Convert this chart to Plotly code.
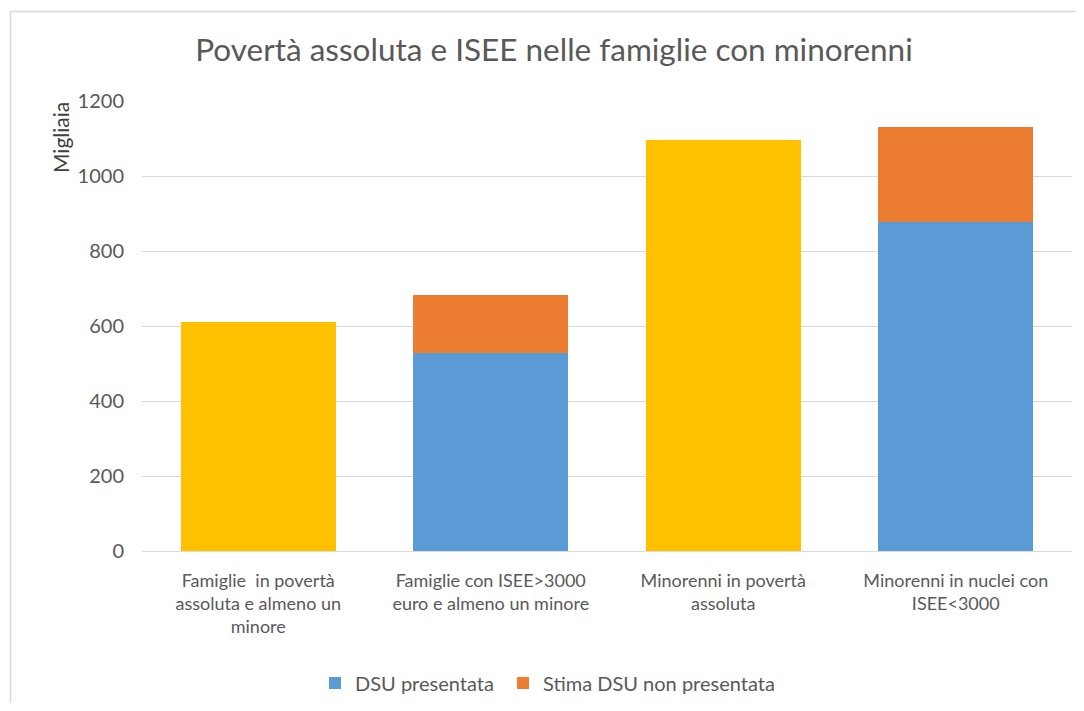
import plotly.graph_objects as go

categories = [
    "Famiglie  in povertà<br>assoluta e almeno un<br>minore",
    "Famiglie con ISEE>3000<br>euro e almeno un minore",
    "Minorenni in povertà<br>assoluta",
    "Minorenni in nuclei con<br>ISEE<3000",
]
totale = [611, None, 1096, None]
dsu_presentata = [None, 528, None, 878]
dsu_non_presentata = [None, 154, None, 252]

FONT = "Lato, sans-serif"
GREY = "#595959"

# page body has an 8px margin, so figure coords = screenshot coords - 8
W, H = 1076, 695
PL, PR, PT, PB = 134, 1064, 93, 543
PW, PH = PR - PL, PB - PT


def px(x):
    return (x - 8 - PL) / PW


def py(y):
    return (PB - (y - 8)) / PH


fig = go.Figure()
fig.add_trace(go.Bar(x=categories, y=totale, name="Totale", marker_color="#FFC000",
                     showlegend=False))
fig.add_trace(go.Bar(x=categories, y=dsu_presentata, name="DSU presentata",
                     marker_color="#5B9BD5", legend="legend"))
fig.add_trace(go.Bar(x=categories, y=dsu_non_presentata, name="Stima DSU non presentata",
                     marker_color="#ED7D31", legend="legend2"))
fig.update_traces(marker_line_width=0, width=0.667)

legend_style = dict(orientation="h", xanchor="left", y=py(683), yanchor="middle",
                    font=dict(size=20, color=GREY), bgcolor="rgba(0,0,0,0)")

fig.update_layout(
    width=W, height=H,
    barmode="stack",
    paper_bgcolor="white", plot_bgcolor="white",
    margin=dict(l=PL, r=W - PR, t=PT, b=H - PB, autoexpand=False),
    font=dict(family=FONT, color=GREY, size=18),
    title=dict(text="Povertà assoluta e ISEE nelle famiglie con minorenni",
               x=px(554), xref="paper", xanchor="center",
               y=1 - (50 - 8) / H, yanchor="middle",
               font=dict(size=31.5, color=GREY, family=FONT)),
    xaxis=dict(showgrid=False, showline=True, linecolor="#D9D9D9", linewidth=1,
               ticks="", tickfont=dict(size=18, color=GREY), ticklabelstandoff=13),
    yaxis=dict(range=[0, 1200], dtick=200, showgrid=True, gridcolor="#D9D9D9",
               zeroline=False, ticks="", tickfont=dict(size=20, color=GREY),
               ticklabelstandoff=17),
    legend=dict(x=px(340 - 25), **legend_style),
    legend2=dict(x=px(528 - 25), **legend_style),
    annotations=[dict(text="Migliaia", textangle=-90, xref="paper", yref="paper",
                      x=px(60), y=py(138), showarrow=False,
                      xanchor="center", yanchor="middle",
                      font=dict(size=21, color="#404040", family=FONT))],
    shapes=[dict(type="rect", xref="paper", yref="paper",
                 x0=px(10.5), x1=px(1100), y0=py(730), y1=py(11.5),
                 line=dict(color="#D9D9D9", width=1.5), layer="below")],
)

fig.write_html("out.html")
